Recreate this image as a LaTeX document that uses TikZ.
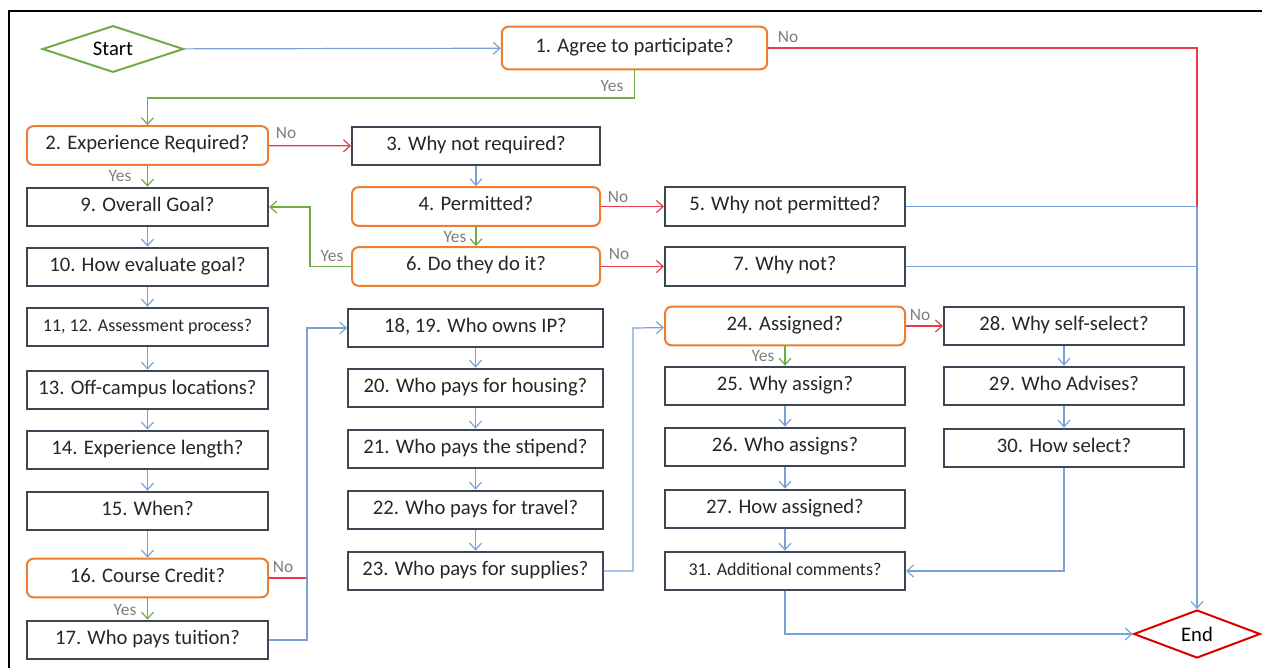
\documentclass[tikz,border=0pt]{standalone}
\usepackage{fontspec}
\setmainfont{Carlito}
\usetikzlibrary{shapes.geometric,arrows.meta}

\definecolor{flowblue}{RGB}{122,162,212}
\definecolor{noRed}{RGB}{232,58,72}
\definecolor{yesGreen}{RGB}{112,173,71}
\definecolor{askOrange}{RGB}{237,125,49}
\definecolor{boxGrey}{RGB}{62,70,84}
\definecolor{lblGrey}{RGB}{125,125,125}

\begin{document}
\begin{tikzpicture}[x=0.75pt,y=-0.75pt,
    box/.style={draw=boxGrey,line width=1.5pt,minimum height=29pt,inner sep=2pt,
        text=black!85,text height=0.66em,text depth=0pt,font=\fontsize{15.5}{18}\selectfont},
    ask/.style={box,draw=askOrange,rounded corners=5pt},
    flow/.style={draw=flowblue,line width=0.9pt,-{Straight Barb[length=5pt,width=9pt]}},
    noline/.style={flow,draw=noRed},
    yesline/.style={flow,draw=yesGreen},
    lbl/.style={text=lblGrey,inner sep=0pt,font=\fontsize{13}{15}\selectfont}]
\useasboundingbox (0,0) rectangle (1262,668);
\draw[line width=2.2pt] (9,668) -- (9,11) -- (1262,11);

% start / end
\node[diamond,aspect=3,draw=yesGreen,line width=1.5pt,minimum width=106pt,minimum height=35pt,
    inner sep=0pt,font=\fontsize{15.5}{18}\selectfont] (start) at (113,49) {Start};
\node[diamond,aspect=3,draw=red!85!black,line width=1.5pt,minimum width=95pt,minimum height=36pt,
    inner sep=0pt,font=\fontsize{15.5}{18}\selectfont] (end) at (1197,634) {End};
\node[ask,minimum width=199pt,minimum height=32pt] (1) at (634.5,48) {1. Agree to participate?};

% left column
\begin{scope}[every node/.append style={minimum width=181pt}]
    \node[ask] (2) at (147.5,145.5) {2. Experience Required?};
    \node[box] (9) at (147.5,207) {9. Overall Goal?};
    \node[box] (10) at (147.5,267) {10. How evaluate goal?};
    \node[box,font=\fontsize{13.5}{16}\selectfont] (11) at (147.5,327) {11, 12. Assessment process?};
    \node[box] (13) at (147.5,390) {13. Off-campus locations?};
    \node[box] (14) at (147.5,450) {14. Experience length?};
    \node[box] (15) at (147.5,511) {15. When?};
    \node[ask] (16) at (147.5,578) {16. Course Credit?};
    \node[box] (17) at (147.5,640) {17. Who pays tuition?};
\end{scope}

% middle column
\begin{scope}[every node/.append style={minimum width=186pt}]
    \node[box] (3) at (476,146) {3. Why not required?};
    \node[ask] (4) at (476,206.5) {4. Permitted?};
    \node[ask] (6) at (476,266.5) {6. Do they do it?};
\end{scope}
\begin{scope}[every node/.append style={minimum width=191pt}]
    \node[box] (18) at (475.5,328) {18, 19. Who owns IP?};
    \node[box] (20) at (475.5,388) {20. Who pays for housing?};
    \node[box] (21) at (475.5,449) {21. Who pays the stipend?};
    \node[box] (22) at (475.5,510) {22. Who pays for travel?};
    \node[box] (23) at (475.5,571) {23. Who pays for supplies?};
\end{scope}

% right columns
\begin{scope}[every node/.append style={minimum width=180pt}]
    \node[box] (5) at (785,206.5) {5. Why not permitted?};
    \node[box] (7) at (785,266.5) {7. Why not?};
    \node[ask] (24) at (785,326) {24. Assigned?};
    \node[box] (25) at (785,386) {25. Why assign?};
    \node[box] (26) at (785,447) {26. Who assigns?};
    \node[box] (27) at (785,509) {27. How assigned?};
    \node[box,font=\fontsize{13.5}{16}\selectfont] (31) at (785,571) {31. Additional comments?};
    \node[box] (28) at (1064,326) {28. Why self-select?};
    \node[box] (29) at (1064,386) {29. Who Advises?};
    \node[box] (30) at (1064,448) {30. How select?};
\end{scope}

\coordinate (j5) at (1197,206.5);
\coordinate (j7) at (1197,266.5);
\coordinate (y1) at (147.5,98);
\coordinate (y6) at (310,266.5);
\coordinate (j16) at (307,578);
\coordinate (j18) at (307,328);
\coordinate (j24) at (633,328);

\draw[flow] (start) -- (1);
\draw[noline,-] (1) -| (j5);
\draw[yesline] (1) |- (y1) -- (2);
\draw[noline] (2) -- (3);
\draw[yesline] (2) -- (9);
\draw[flow] (3) -- (4);
\draw[noline] (4) -- (5);
\draw[yesline] (4) -- (6);
\draw[noline] (6) -- (7);
\draw[yesline] (6) -- (y6) |- (9);
\draw[flow,-] (5) -- (j5);
\draw[flow,-] (7) -- (j7);
\draw[flow] (j5) -- (end);

\draw[flow] (9) -- (10);
\draw[flow] (10) -- (11);
\draw[flow] (11) -- (13);
\draw[flow] (13) -- (14);
\draw[flow] (14) -- (15);
\draw[flow] (15) -- (16);
\draw[yesline] (16) -- (17);
\draw[noline,-] (16) -- (j16);
\draw[flow] (17) -| (j18) -- (18);

\draw[flow] (18) -- (20);
\draw[flow] (20) -- (21);
\draw[flow] (21) -- (22);
\draw[flow] (22) -- (23);
\draw[flow] (23) -| (j24) -- (24);

\draw[noline] (24) -- (28);
\draw[yesline] (24) -- (25);
\draw[flow] (25) -- (26);
\draw[flow] (26) -- (27);
\draw[flow] (27) -- (31);
\draw[flow] (28) -- (29);
\draw[flow] (29) -- (30);
\draw[flow] (30) |- (31);
\draw[flow] (31) |- (end);

% yes / no labels
\node[lbl] (l1n) at (788,37) {No};
\node[lbl] (l1y) at (612,86) {Yes};
\node[lbl] (l2n) at (286,133) {No};
\node[lbl] (l2y) at (120,176) {Yes};
\node[lbl] (l4n) at (618,197) {No};
\node[lbl] (l4y) at (455,237) {Yes};
\node[lbl] (l6n) at (619,254) {No};
\node[lbl] (l6y) at (332,256) {Yes};
\node[lbl] (l16n) at (283,567) {No};
\node[lbl] (l16y) at (125,610) {Yes};
\node[lbl] (l24n) at (920,315) {No};
\node[lbl] (l24y) at (763,356) {Yes};
\end{tikzpicture}
\end{document}
